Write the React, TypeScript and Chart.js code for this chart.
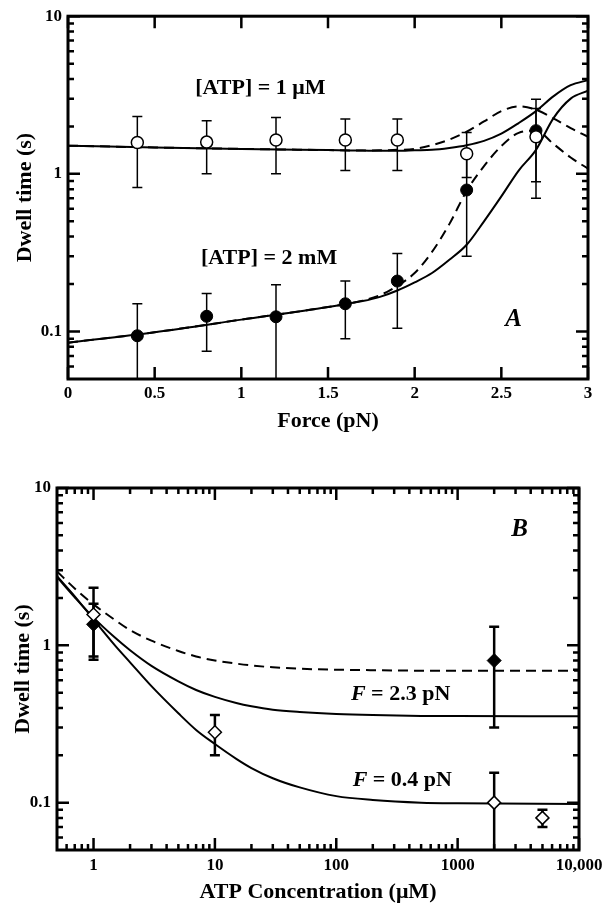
import React, { useEffect, useRef } from "react";
import { Chart, registerables } from "chart.js";

Chart.register(...registerables);

const FONT = "'Liberation Serif', 'Times New Roman', serif";

// ---------------- Panel A data ----------------
const forceA = [0.4, 0.8, 1.2, 1.6, 1.9, 2.3, 2.7];
const dwell1uM = [1.58, 1.59, 1.64, 1.64, 1.64, 1.34, 1.72];
const dwell1uMLow = [0.82, 1.0, 1.0, 1.05, 1.05, 0.95, 0.89];
const dwell1uMHigh = [2.31, 2.17, 2.28, 2.23, 2.23, 1.83, 2.6];
const dwell2mM = [0.094, 0.125, 0.124, 0.15, 0.209, 0.79, 1.88];
const dwell2mMLow = [0.04, 0.075, 0.04, 0.09, 0.105, 0.3, 0.7];
const dwell2mMHigh = [0.15, 0.174, 0.198, 0.209, 0.312, 1.3, 2.97];

const fitForce = [0, 0.5, 1.0, 1.5, 1.7, 1.8, 1.9, 2.0, 2.1, 2.2, 2.3, 2.4, 2.5, 2.6, 2.7, 2.8, 2.9, 3.0];
const fit1uMSolid = [1.51, 1.47, 1.44, 1.415, 1.405, 1.4, 1.4, 1.41, 1.42, 1.46, 1.52, 1.62, 1.8, 2.1, 2.5, 3.1, 3.65, 3.93];
const fit1uMDashed = [1.51, 1.47, 1.44, 1.415, 1.405, 1.41, 1.42, 1.44, 1.52, 1.65, 1.85, 2.15, 2.5, 2.68, 2.55, 2.25, 1.95, 1.72];
const fit2mMSolid = [0.085, 0.099, 0.119, 0.143, 0.156, 0.166, 0.182, 0.205, 0.235, 0.285, 0.355, 0.5, 0.72, 1.05, 1.42, 2.25, 3.0, 3.37];
const fit2mMDashed = [0.085, 0.099, 0.119, 0.143, 0.157, 0.17, 0.195, 0.235, 0.32, 0.48, 0.78, 1.12, 1.5, 1.82, 1.88, 1.55, 1.27, 1.08];

const forceTickValues = [0, 0.5, 1, 1.5, 2, 2.5, 3];
const forceTickLabels = ["0", "0.5", "1", "1.5", "2", "2.5", "3"];
const dwellTickValues = [0.1, 1, 10];
const dwellTickLabels = ["0.1", "1", "10"];
const dwellMinorTicks = [0.06, 0.07, 0.08, 0.09, 0.2, 0.3, 0.4, 0.5, 0.6, 0.7, 0.8, 0.9, 2, 3, 4, 5, 6, 7, 8, 9];

// ---------------- Panel B data ----------------
const conc23pN = [1, 2000];
const dwell23pN = [1.36, 0.8];
const dwell23pNLow = [0.81, 0.3];
const dwell23pNHigh = [2.32, 1.31];
const conc04pN = [1, 10, 2000, 5000];
const dwell04pN = [1.57, 0.28, 0.1, 0.08];
const dwell04pNLow = [0.85, 0.2, 0.04, 0.07];
const dwell04pNHigh = [1.84, 0.36, 0.155, 0.09];

const fitConc = [0.5, 0.7, 1, 1.5, 2, 3, 5, 7, 10, 15, 20, 30, 50, 100, 200, 500, 1000, 10000];
const fitDashedB = [2.95, 2.3, 1.82, 1.45, 1.25, 1.07, 0.92, 0.85, 0.8, 0.765, 0.745, 0.725, 0.71, 0.7, 0.695, 0.69, 0.69, 0.69];
const fit23pN = [2.72, 2.02, 1.5, 1.12, 0.93, 0.74, 0.59, 0.52, 0.47, 0.43, 0.41, 0.39, 0.377, 0.366, 0.36, 0.356, 0.355, 0.354];
const fit04pN = [2.75, 2.05, 1.46, 1.0, 0.78, 0.55, 0.37, 0.29, 0.236, 0.19, 0.166, 0.143, 0.125, 0.11, 0.104, 0.1, 0.099, 0.098];

const concTickValues = [1, 10, 100, 1000, 10000];
const concTickLabels = ["1", "10", "100", "1000", "10,000"];
const concMinorTicks = [
  0.6, 0.7, 0.8, 0.9, 2, 3, 4, 5, 6, 7, 8, 9, 20, 30, 40, 50, 60, 70, 80, 90,
  200, 300, 400, 500, 600, 700, 800, 900, 2000, 3000, 4000, 5000, 6000, 7000, 8000, 9000,
];

// ---------------- plugins ----------------
type ErrSpec = { xs: number[]; low: number[]; high: number[] };

function errorBarPlugin(specs: ErrSpec[], cap: number, lw: number) {
  return {
    id: "errbars",
    beforeDatasetsDraw(chart: any) {
      const { ctx, chartArea, scales } = chart;
      ctx.save();
      ctx.beginPath();
      ctx.rect(chartArea.left, chartArea.top, chartArea.right - chartArea.left, chartArea.bottom - chartArea.top);
      ctx.clip();
      ctx.strokeStyle = "#000";
      ctx.lineWidth = lw;
      specs.forEach((s) => {
        s.xs.forEach((xv, i) => {
          const px = scales.x.getPixelForValue(xv);
          const pl = scales.y.getPixelForValue(s.low[i]);
          const ph = scales.y.getPixelForValue(s.high[i]);
          ctx.beginPath();
          ctx.moveTo(px, pl);
          ctx.lineTo(px, ph);
          ctx.moveTo(px - cap, ph);
          ctx.lineTo(px + cap, ph);
          ctx.moveTo(px - cap, pl);
          ctx.lineTo(px + cap, pl);
          ctx.stroke();
        });
      });
      ctx.restore();
    },
  };
}

function framePlugin(xMajor: number[], xMinor: number[], yMajor: number[], yMinor: number[]) {
  return {
    id: "frame",
    afterDraw(chart: any) {
      const { ctx, chartArea, scales } = chart;
      const { left, right, top, bottom } = chartArea;
      ctx.save();
      ctx.strokeStyle = "#000";
      ctx.lineWidth = 2.5;
      ctx.lineCap = "butt";
      const drawX = (vals: number[], len: number) => {
        vals.forEach((v) => {
          const px = scales.x.getPixelForValue(v);
          ctx.beginPath();
          ctx.moveTo(px, bottom);
          ctx.lineTo(px, bottom - len);
          ctx.moveTo(px, top);
          ctx.lineTo(px, top + len);
          ctx.stroke();
        });
      };
      const drawY = (vals: number[], len: number) => {
        vals.forEach((v) => {
          const py = scales.y.getPixelForValue(v);
          ctx.beginPath();
          ctx.moveTo(left, py);
          ctx.lineTo(left + len, py);
          ctx.moveTo(right, py);
          ctx.lineTo(right - len, py);
          ctx.stroke();
        });
      };
      drawX(xMajor, 12);
      drawX(xMinor, 6);
      drawY(yMajor, 12);
      drawY(yMinor, 6);
      ctx.lineWidth = 3;
      ctx.strokeRect(left, top, right - left, bottom - top);
      ctx.restore();
    },
  };
}

type NotePart = { text: string; italic?: boolean };
type Note = { x: number; y: number; size: number; parts: NotePart[] };

function notesPlugin(notes: Note[]) {
  return {
    id: "notes",
    afterDatasetsDraw(chart: any) {
      const { ctx, scales } = chart;
      ctx.save();
      ctx.fillStyle = "#000";
      ctx.textBaseline = "middle";
      ctx.textAlign = "left";
      notes.forEach((n) => {
        const px = scales.x.getPixelForValue(n.x);
        const py = scales.y.getPixelForValue(n.y);
        const widths = n.parts.map((p) => {
          ctx.font = `${p.italic ? "italic " : ""}bold ${n.size}px ${FONT}`;
          return ctx.measureText(p.text).width;
        });
        const total = widths.reduce((a, b) => a + b, 0);
        let cx = px - total / 2;
        n.parts.forEach((p, i) => {
          ctx.font = `${p.italic ? "italic " : ""}bold ${n.size}px ${FONT}`;
          ctx.fillText(p.text, cx, py);
          cx += widths[i];
        });
      });
      ctx.restore();
    },
  };
}

const tickFont = { family: FONT, size: 17, weight: "bold" as const };
const titleFont = { family: FONT, size: 22, weight: "bold" as const, lineHeight: 1 };

function pts(xs: number[], ys: number[]) {
  return xs.map((x, i) => ({ x, y: ys[i] }));
}

function curve(xs: number[], ys: number[], dashed: boolean) {
  return {
    data: pts(xs, ys),
    showLine: true,
    pointRadius: 0,
    borderColor: "#000",
    borderWidth: 2,
    borderDash: dashed ? [10, 6] : [],
    cubicInterpolationMode: "monotone",
    fill: false,
  };
}

function buildA(): any {
  return {
    type: "scatter",
    data: {
      datasets: [
        {
          data: pts(forceA, dwell1uM),
          pointStyle: "circle",
          pointRadius: 6,
          backgroundColor: "#fff",
          borderColor: "#000",
          borderWidth: 1.5,
          showLine: false,
        },
        {
          data: pts(forceA, dwell2mM),
          pointStyle: "circle",
          pointRadius: 6,
          backgroundColor: "#000",
          borderColor: "#000",
          borderWidth: 1,
          showLine: false,
        },
        curve(fitForce, fit1uMSolid, false),
        curve(fitForce, fit1uMDashed, true),
        curve(fitForce, fit2mMSolid, false),
        curve(fitForce, fit2mMDashed, true),
      ],
    },
    options: {
      animation: false,
      responsive: true,
      maintainAspectRatio: false,
      layout: { padding: { top: 16, right: 25, left: 0, bottom: 0 } },
      plugins: { legend: { display: false }, tooltip: { enabled: false } },
      scales: {
        x: {
          type: "linear",
          min: 0,
          max: 3,
          grid: { display: false, drawTicks: false },
          border: { display: false },
          afterBuildTicks: (s: any) => {
            s.ticks = forceTickValues.map((v) => ({ value: v }));
          },
          ticks: {
            color: "#000",
            font: tickFont,
            padding: 4,
            maxRotation: 0,
            autoSkip: false,
            callback: (_v: any, i: number) => forceTickLabels[i],
          },
          title: {
            display: true,
            text: "Force (pN)",
            color: "#000",
            font: titleFont,
            padding: { top: 0, bottom: 8 },
          },
          afterFit: (s: any) => {
            s.height = 61;
          },
        },
        y: {
          type: "logarithmic",
          min: 0.05,
          max: 10,
          grid: { display: false, drawTicks: false },
          border: { display: false },
          afterBuildTicks: (s: any) => {
            s.ticks = dwellTickValues.map((v) => ({ value: v }));
          },
          ticks: {
            color: "#000",
            font: tickFont,
            padding: 6,
            autoSkip: false,
            callback: (_v: any, i: number) => dwellTickLabels[i],
          },
          title: {
            display: true,
            text: "Dwell time (s)",
            color: "#000",
            font: titleFont,
            padding: { top: 14, bottom: 0 },
          },
          afterFit: (s: any) => {
            s.width = 68;
          },
        },
      },
    },
    plugins: [
      errorBarPlugin(
        [
          { xs: forceA, low: dwell1uMLow, high: dwell1uMHigh },
          { xs: forceA, low: dwell2mMLow, high: dwell2mMHigh },
        ],
        5,
        1.5
      ),
      notesPlugin([
        { x: 1.11, y: 3.5, size: 22, parts: [{ text: "[ATP] = 1 \u03bcM" }] },
        { x: 1.16, y: 0.29, size: 22, parts: [{ text: "[ATP] = 2 mM" }] },
        { x: 2.57, y: 0.119, size: 25, parts: [{ text: "A", italic: true }] },
      ]),
      framePlugin(forceTickValues, [], dwellTickValues, dwellMinorTicks),
    ],
  };
}

function buildB(): any {
  return {
    type: "scatter",
    data: {
      datasets: [
        {
          data: pts(conc04pN, dwell04pN),
          pointStyle: "rectRot",
          pointRadius: 6.5,
          backgroundColor: "#fff",
          borderColor: "#000",
          borderWidth: 1.5,
          showLine: false,
        },
        {
          data: pts(conc23pN, dwell23pN),
          pointStyle: "rectRot",
          pointRadius: 7,
          backgroundColor: "#000",
          borderColor: "#000",
          borderWidth: 1,
          showLine: false,
        },
        curve(fitConc, fitDashedB, true),
        curve(fitConc, fit23pN, false),
        curve(fitConc, fit04pN, false),
      ],
    },
    options: {
      animation: false,
      responsive: true,
      maintainAspectRatio: false,
      layout: { padding: { top: 38, right: 34, left: 0, bottom: 0 } },
      plugins: { legend: { display: false }, tooltip: { enabled: false } },
      scales: {
        x: {
          type: "logarithmic",
          min: 0.5,
          max: 10000,
          grid: { display: false, drawTicks: false },
          border: { display: false },
          afterBuildTicks: (s: any) => {
            s.ticks = concTickValues.map((v) => ({ value: v }));
          },
          ticks: {
            color: "#000",
            font: tickFont,
            padding: 5,
            maxRotation: 0,
            autoSkip: false,
            callback: (_v: any, i: number) => concTickLabels[i],
          },
          title: {
            display: true,
            text: "ATP Concentration (\u03bcM)",
            color: "#000",
            font: titleFont,
            padding: { top: 0, bottom: 0 },
          },
          afterFit: (s: any) => {
            s.height = 53;
          },
        },
        y: {
          type: "logarithmic",
          min: 0.05,
          max: 10,
          grid: { display: false, drawTicks: false },
          border: { display: false },
          afterBuildTicks: (s: any) => {
            s.ticks = dwellTickValues.map((v) => ({ value: v }));
          },
          ticks: {
            color: "#000",
            font: tickFont,
            padding: 6,
            autoSkip: false,
            callback: (_v: any, i: number) => dwellTickLabels[i],
          },
          title: {
            display: true,
            text: "Dwell time (s)",
            color: "#000",
            font: titleFont,
            padding: { top: 12, bottom: 0 },
          },
          afterFit: (s: any) => {
            s.width = 57;
          },
        },
      },
    },
    plugins: [
      errorBarPlugin(
        [
          { xs: conc23pN, low: dwell23pNLow, high: dwell23pNHigh },
          { xs: conc04pN, low: dwell04pNLow, high: dwell04pNHigh },
        ],
        5,
        2.5
      ),
      notesPlugin([
        { x: 3240, y: 5.42, size: 25, parts: [{ text: "B", italic: true }] },
        { x: 339, y: 0.49, size: 22, parts: [{ text: "F", italic: true }, { text: " = 2.3 pN" }] },
        { x: 350, y: 0.138, size: 22, parts: [{ text: "F", italic: true }, { text: " = 0.4 pN" }] },
      ]),
      framePlugin(concTickValues, concMinorTicks, dwellTickValues, dwellMinorTicks),
    ],
  };
}

function Panel({ build, left, top, width, height }: any) {
  const ref = useRef<HTMLCanvasElement | null>(null);
  useEffect(() => {
    if (!ref.current) return;
    const chart = new Chart(ref.current, build());
    return () => chart.destroy();
  }, [build]);
  return (
    <div style={{ position: "absolute", left, top, width, height }}>
      <canvas ref={ref} />
    </div>
  );
}

export default function App() {
  return (
    <div style={{ position: "absolute", left: 0, top: 0, width: 613, height: 903, background: "#fff" }}>
      <Panel build={buildA} left={0} top={0} width={613} height={440} />
      <Panel build={buildB} left={0} top={450} width={613} height={453} />
    </div>
  );
}
